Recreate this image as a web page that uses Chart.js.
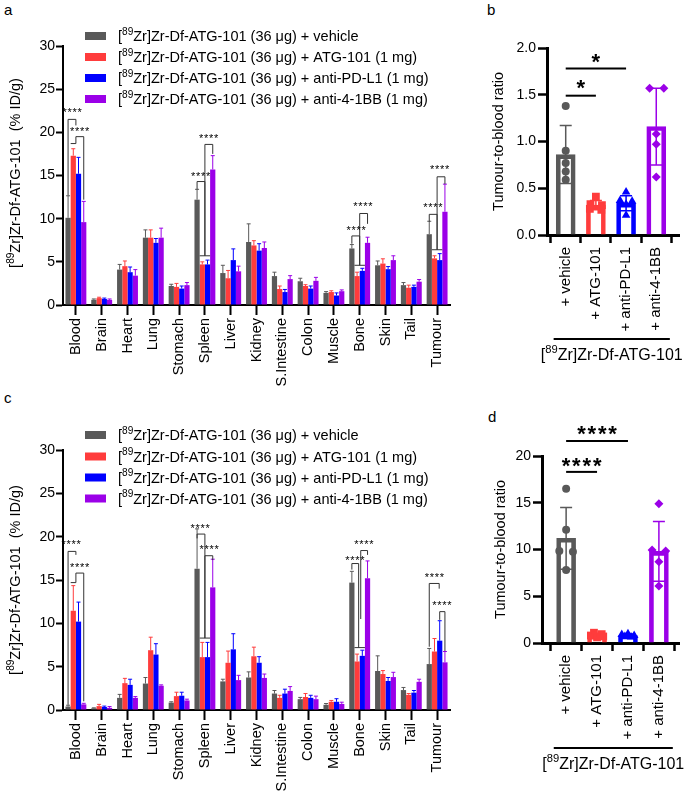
<!DOCTYPE html>
<html>
<head>
<meta charset="utf-8">
<script src="https://cdn.jsdelivr.net/npm/chart.js@4"></script>
<style>
html, body { margin: 0; padding: 0; background: #fff; }
body { width: 685px; height: 797px; position: relative; overflow: hidden; font-family: Arial, "Liberation Sans", sans-serif; }
canvas { position: absolute; }
.tag { position: absolute; font-size: 15px; line-height: 15px; color: #000; }
</style>
</head>
<body>
<div class="tag" style="left:4px;top:2px">a</div>
<div class="tag" style="left:487px;top:2px">b</div>
<div class="tag" style="left:4px;top:390px">c</div>
<div class="tag" style="left:488px;top:409px">d</div>
<canvas id="chartA" width="470" height="400" style="left:0;top:0"></canvas>
<canvas id="chartB" width="205" height="380" style="left:480px;top:0"></canvas>
<canvas id="chartC" width="470" height="397" style="left:0;top:400px"></canvas>
<canvas id="chartD" width="205" height="397" style="left:480px;top:400px"></canvas>
<script>
const FONT = 'Arial, "Liberation Sans", sans-serif'

const organs = ['Blood', 'Brain', 'Heart', 'Lung', 'Stomach', 'Spleen', 'Liver', 'Kidney', 'S.Intestine', 'Colon', 'Muscle', 'Bone', 'Skin', 'Tail', 'Tumour']
const groupSuffix = [' (36 μg) + vehicle', ' (36 μg) + ATG-101 (1 mg)', ' (36 μg) + anti-PD-L1 (1 mg)', ' (36 μg) + anti-4-1BB (1 mg)']
const ratioLabels = ['+ vehicle', '+ ATG-101', '+ anti-PD-L1', '+ anti-4-1BB']
const uptakeTicks = [0, 5, 10, 15, 20, 25, 30]

// panel a: biodistribution, mean and SD (% ID/g)
const aVehicle = [10.1, 0.6, 4.1, 7.8, 2.2, 12.2, 3.7, 7.3, 3.35, 2.75, 1.4, 6.55, 4.6, 2.3, 8.2]
const aVehicleSd = [2.55, 0.1, 0.6, 0.9, 0.2, 1.2, 0.9, 2.1, 0.45, 0.35, 0.15, 0.45, 0.5, 0.3, 1.5]
const aAtg = [17.3, 0.8, 4.5, 7.8, 2.1, 4.7, 3.1, 6.9, 1.85, 2.2, 1.5, 3.35, 4.8, 2.0, 5.4]
const aAtgSd = [0.8, 0.1, 0.6, 0.9, 0.4, 0.3, 0.9, 0.55, 0.35, 0.15, 0.15, 0.45, 0.55, 0.3, 0.3]
const aPdl1 = [15.2, 0.7, 3.8, 7.2, 1.9, 4.7, 5.2, 6.3, 1.5, 1.9, 1.1, 3.95, 4.15, 2.1, 5.2]
const aPdl1Sd = [1.9, 0.1, 0.6, 0.5, 0.3, 0.5, 1.3, 0.8, 0.3, 0.3, 0.3, 0.3, 0.3, 0.2, 0.75]
const a41bb = [9.6, 0.6, 3.4, 7.8, 2.3, 15.7, 3.9, 6.6, 3.0, 2.8, 1.6, 7.2, 5.2, 2.7, 10.8]
const a41bbSd = [2.4, 0.1, 0.7, 1.1, 0.3, 1.6, 0.6, 0.7, 0.4, 0.4, 0.15, 0.65, 0.5, 0.25, 3.2]

// panel c
const cVehicle = [0.4, 0.2, 1.4, 3.05, 0.85, 16.3, 3.3, 3.75, 1.9, 1.25, 0.6, 14.7, 4.5, 2.3, 5.3]
const cVehicleSd = [0.15, 0.05, 0.4, 0.7, 0.1, 4.6, 0.25, 0.65, 0.35, 0.2, 0.15, 1.3, 1.75, 0.3, 1.8]
const cAtg = [11.45, 0.45, 3.1, 6.9, 1.6, 6.1, 5.45, 6.2, 1.4, 1.5, 0.95, 5.6, 4.15, 1.75, 6.75]
const cAtgSd = [2.9, 0.2, 0.55, 1.5, 0.45, 1.7, 1.35, 1.05, 0.3, 0.4, 0.15, 0.85, 0.4, 0.15, 1.5]
const cPdl1 = [10.2, 0.35, 2.9, 6.4, 1.65, 6.1, 7.0, 5.45, 1.9, 1.4, 0.95, 6.25, 3.35, 2.0, 8.0]
const cPdl1Sd = [2.25, 0.1, 0.65, 1.25, 0.4, 1.7, 1.8, 0.7, 0.5, 0.3, 0.35, 0.65, 0.4, 0.25, 2.3]
const c41bb = [0.65, 0.25, 1.4, 2.8, 1.1, 14.15, 3.45, 3.7, 2.2, 1.25, 0.7, 15.2, 3.8, 3.25, 5.5]
const c41bbSd = [0.12, 0.15, 0.15, 0.1, 0.15, 3.25, 0.55, 0.45, 0.5, 0.35, 0.2, 2.0, 0.55, 0.3, 1.25]

// panel b: tumour-to-blood ratio, individual animals, mean, SD
const bVehicle = [1.38, 0.90, 0.77, 0.68, 0.59]
const bAtg = [0.41, 0.33, 0.32, 0.28, 0.27]
const bPdl1 = [0.46, 0.37, 0.36, 0.33, 0.21]
const b41bb = [1.57, 1.57, 1.08, 0.97, 0.62]
const bMean = [0.86, 0.32, 0.34, 1.16]
const bSd = [0.31, 0.05, 0.08, 0.41]
const bJitter = [[0, 0, 0, 0, 0], [0, -0.18, 0.2, -0.2, 0.18], [0, -0.2, 0.2, 0, 0], [-0.22, 0.25, 0, 0, 0]]

// panel d
const dVehicle = [16.5, 12.1, 9.85, 9.75, 7.8]
const dAtg = [1.1, 0.95, 0.8, 0.7, 0.6]
const dPdl1 = [1.0, 0.9, 0.8, 0.7, 0.65]
const d41bb = [14.9, 9.95, 9.85, 8.7, 6.1]
const dMean = [11.2, 0.83, 0.8, 9.8]
const dSd = [3.3, 0.2, 0.15, 3.2]
const dJitter = [[0, 0, -0.22, 0.22, 0], [-0.1, 0.15, -0.2, 0.2, 0], [0, -0.2, 0.2, -0.1, 0.1], [0, -0.22, 0.22, 0, 0]]

const colors = ['#595959', '#ff3c3c', '#0000ff', '#9b00e8']
const pointStyles = ['circle', 'rect', 'triangle', 'rectRot']
const pointRadii = [4, 5.5, 5, 4.5]

Chart.defaults.font.family = FONT
Chart.defaults.color = '#000'

function isoText(ctx, x, y, size, tail, align) {
	const big = size + 'px ' + FONT
	const small = (size * 0.7).toFixed(1) + 'px ' + FONT
	const rest = 'Zr]Zr-Df-ATG-101' + tail
	ctx.font = big
	const w1 = ctx.measureText('[').width
	const w3 = ctx.measureText(rest).width
	ctx.font = small
	const w2 = ctx.measureText('89').width
	const total = w1 + w2 + w3
	let x0 = x
	if (align === 'center') x0 = x - total / 2
	else if (align === 'right') x0 = x - total
	const base = y + size * 0.35
	ctx.textAlign = 'left'
	ctx.textBaseline = 'alphabetic'
	ctx.fillStyle = '#000'
	ctx.font = big
	ctx.fillText('[', x0, base)
	ctx.font = small
	ctx.fillText('89', x0 + w1, base - size * 0.42)
	ctx.font = big
	ctx.fillText(rest, x0 + w1 + w2, base)
}

function stars(ctx, xc, yc, n, size, gap, bold) {
	ctx.font = (bold ? 'bold ' : '') + size + 'px ' + FONT
	ctx.fillStyle = '#000'
	ctx.textAlign = 'center'
	ctx.textBaseline = 'alphabetic'
	for (let i = 0; i < n; i++) {
		ctx.fillText('*', xc + (i - (n - 1) / 2) * gap, yc + size * 0.58)
	}
}

// significance brackets; a/b = position inside the group (0 = vehicle bar ... 3 = anti-4-1BB bar)
const aBrackets = [
	{ c: 0, a: 0, b: 1.5, top: 21.5, la: 12.7, lb: 20.8 },
	{ c: 0, a: 1.5, b: 3, top: 19.5, la: 18.7, lb: 12.2 },
	{ c: 5, a: 0, b: 1.5, top: 14.3, la: 13.4, lb: 5.7 },
	{ c: 5, a: 1.5, b: 3, top: 18.6, la: 5.7, lb: 17.5 },
	{ c: 11, a: 0, b: 1.5, top: 8.0, la: 7.1, lb: 4.6 },
	{ c: 11, a: 1.5, b: 3, top: 10.6, la: 4.6, lb: 9.4 },
	{ c: 14, a: 0, b: 1.5, top: 10.5, la: 9.65, lb: 6.4 },
	{ c: 14, a: 1.5, b: 3, top: 14.85, la: 6.4, lb: 14.0 },
]
const aShelves = [{ c: 0, a: 0.5, b: 1.5, y: 18.7 }, { c: 5, a: 0.5, b: 2.5, y: 5.7 }, { c: 11, a: 0.5, b: 2.5, y: 4.6 }, { c: 14, a: 0.5, b: 2.5, y: 6.4 }]
const aStars = [{ c: 0, p: 0.8, y: 22.6 }, { c: 0, p: 2.2, y: 20.4 }, { c: 5, p: 0.7, y: 15.2 }, { c: 5, p: 2.2, y: 19.6 }, { c: 11, p: 0.8, y: 9.0 }, { c: 11, p: 2.1, y: 11.8 }, { c: 14, p: 0.7, y: 11.6 }, { c: 14, p: 2.0, y: 16.0 }]

const cBrackets = [
	{ c: 0, a: 0, b: 1.5, top: 18.3, la: 0.6, lb: 17.9 },
	{ c: 0, a: 1.5, b: 3, top: 15.8, la: 14.7, lb: 1.0 },
	{ c: 5, a: 0, b: 1.5, top: 20.3, la: 19.8, lb: 8.3 },
	{ c: 5, a: 1.5, b: 3, top: 17.8, la: 8.3, lb: 17.3 },
	{ c: 11, a: 0, b: 1.3, top: 16.9, la: 16.2, lb: 7.2 },
	{ c: 11, a: 1.7, b: 3, top: 18.4, la: 10.5, lb: 17.9 },
	{ c: 14, a: 0, b: 1.9, top: 14.6, la: 7.3, lb: 14.0 },
	{ c: 14, a: 2.0, b: 3, top: 11.35, la: 10.4, lb: 6.8 },
]
const cShelves = [{ c: 0, a: 0.5, b: 1.5, y: 14.7 }, { c: 5, a: 0.5, b: 2.5, y: 8.3 }, { c: 11, a: 0.5, b: 2.5, y: 7.2 }]
const cStars = [{ c: 0, p: 0.6, y: 19.4 }, { c: 0, p: 2.2, y: 16.8 }, { c: 5, p: 0.6, y: 21.3 }, { c: 5, p: 2.3, y: 18.9 }, { c: 11, p: 0.6, y: 17.6 }, { c: 11, p: 2.3, y: 19.4 }, { c: 14, p: 1.0, y: 15.65 }, { c: 14, p: 2.4, y: 12.4 }]

function groupX(chart, c, p) {
	const a = Math.floor(p)
	const b = Math.min(3, Math.ceil(p))
	const xa = chart.getDatasetMeta(a).data[c].x
	const xb = chart.getDatasetMeta(b).data[c].x
	return xa + (xb - xa) * (p - a)
}

function organChart(id, series, sds, brackets, shelves, marks, layout) {
	const datasets = series.map((values, i) => ({
		label: ratioLabels[i],
		data: values,
		sd: sds[i],
		backgroundColor: colors[i],
		borderWidth: 0,
		categoryPercentage: 0.81,
		barPercentage: 1,
	}))

	const extras = {
		id: 'organExtras',
		afterDatasetsDraw(chart) {
			const ctx = chart.ctx
			const y = chart.scales.y
			ctx.save()
			chart.data.datasets.forEach((ds, i) => {
				chart.getDatasetMeta(i).data.forEach((el, j) => {
					const top = y.getPixelForValue(ds.data[j] + ds.sd[j])
					ctx.strokeStyle = ds.backgroundColor
					ctx.lineWidth = 1
					ctx.beginPath()
					ctx.moveTo(el.x, el.y)
					ctx.lineTo(el.x, top)
					ctx.moveTo(el.x - 2, top)
					ctx.lineTo(el.x + 2, top)
					ctx.stroke()
				})
			})
			ctx.restore()
		},
		afterDraw(chart) {
			const ctx = chart.ctx
			const y = chart.scales.y
			ctx.save()
			ctx.strokeStyle = '#333'
			ctx.lineWidth = 1
			brackets.forEach((br) => {
				const xa = groupX(chart, br.c, br.a)
				const xb = groupX(chart, br.c, br.b)
				ctx.beginPath()
				ctx.moveTo(xa, y.getPixelForValue(br.la))
				ctx.lineTo(xa, y.getPixelForValue(br.top))
				ctx.lineTo(xb, y.getPixelForValue(br.top))
				ctx.lineTo(xb, y.getPixelForValue(br.lb))
				ctx.stroke()
			})
			shelves.forEach((sh) => {
				ctx.beginPath()
				ctx.moveTo(groupX(chart, sh.c, sh.a), y.getPixelForValue(sh.y))
				ctx.lineTo(groupX(chart, sh.c, sh.b), y.getPixelForValue(sh.y))
				ctx.stroke()
			})
			marks.forEach((m) => {
				stars(ctx, groupX(chart, m.c, m.p), y.getPixelForValue(m.y), 4, 11, 5, false)
			})

			// legend
			layout.legendRows.forEach((ry, i) => {
				ctx.fillStyle = colors[i]
				ctx.fillRect(85, ry - 4, 21, 8)
				isoText(ctx, 118, ry, 14.5, groupSuffix[i], 'left')
			})

			// y title
			ctx.translate(15, layout.titleY)
			ctx.rotate(-Math.PI / 2)
			isoText(ctx, 0, 0, 14.5, '  (% ID/g)', 'center')
			ctx.restore()
		},
	}

	return new Chart(document.getElementById(id), {
		type: 'bar',
		data: { labels: organs, datasets },
		options: {
			responsive: false,
			animation: false,
			events: [],
			layout: { padding: { top: layout.top, right: 20, left: 0, bottom: 0 } },
			plugins: { legend: { display: false }, tooltip: { enabled: false } },
			scales: {
				x: {
					grid: { offset: false, drawOnChartArea: false, tickLength: 10, tickColor: '#000', tickWidth: 2 },
					border: { color: '#000', width: 2 },
					ticks: { maxRotation: 90, minRotation: 90, autoSkip: false, font: { size: 14.5 }, padding: 3, color: '#000' },
					afterFit: (s) => { s.height = layout.xHeight },
				},
				y: {
					min: 0,
					max: 30,
					afterBuildTicks: (s) => { s.ticks = uptakeTicks.map((v) => ({ value: v })) },
					ticks: { font: { size: 14 }, padding: 1, color: '#000' },
					grid: { drawOnChartArea: false, tickLength: 7, tickColor: '#000', tickWidth: 2 },
					border: { color: '#000', width: 2 },
					afterFit: (s) => { s.width = 63 },
				},
			},
		},
		plugins: [extras],
	})
}

function ratioChart(id, points, jitter, means, sds, layout) {
	const datasets = points.map((pts, i) => ({
		type: 'scatter',
		data: pts.map((v, k) => ({ x: i + jitter[i][k], y: v })),
		pointStyle: pointStyles[i],
		pointRadius: pointRadii[i],
		backgroundColor: colors[i],
		borderWidth: 0,
		order: 1,
	}))
	datasets.push({
		type: 'bar',
		data: means.map((m, i) => ({ x: i, y: m })),
		sd: sds,
		borderColor: colors,
		backgroundColor: 'rgba(255,255,255,0)',
		borderWidth: 4,
		barThickness: 19,
		order: 2,
	})

	const extras = {
		id: 'ratioExtras',
		afterDatasetsDraw(chart) {
			const ctx = chart.ctx
			const y = chart.scales.y
			const barIndex = chart.data.datasets.length - 1
			ctx.save()
			chart.getDatasetMeta(barIndex).data.forEach((el, j) => {
				const lo = y.getPixelForValue(means[j] - sds[j])
				const hi = y.getPixelForValue(means[j] + sds[j])
				ctx.strokeStyle = colors[j]
				ctx.lineWidth = 1.5
				ctx.beginPath()
				ctx.moveTo(el.x, lo)
				ctx.lineTo(el.x, hi)
				ctx.moveTo(el.x - 6, lo)
				ctx.lineTo(el.x + 6, lo)
				ctx.moveTo(el.x - 6, hi)
				ctx.lineTo(el.x + 6, hi)
				ctx.stroke()
			})
			ctx.restore()
		},
		afterDraw(chart) {
			const ctx = chart.ctx
			const x = chart.scales.x
			const y = chart.scales.y
			ctx.save()
			ctx.strokeStyle = '#000'
			ctx.lineWidth = 2
			layout.sig.forEach((s) => {
				const py = y.getPixelForValue(s.y)
				ctx.beginPath()
				ctx.moveTo(x.getPixelForValue(0), py)
				ctx.lineTo(x.getPixelForValue(s.to), py)
				ctx.stroke()
				stars(ctx, (x.getPixelForValue(0) + x.getPixelForValue(s.to)) / 2, y.getPixelForValue(s.starY), layout.starCount, 22, 10.4, true)
			})

			// group bracket under the labels
			const by = chart.chartArea.bottom + layout.bracketGap
			ctx.lineWidth = 2
			ctx.beginPath()
			ctx.moveTo(x.getPixelForValue(-0.4), by)
			ctx.lineTo(x.getPixelForValue(3.45), by)
			ctx.stroke()
			isoText(ctx, (x.getPixelForValue(-0.4) + x.getPixelForValue(3.45)) / 2, by + 15, 16, '', 'center')

			// y title
			ctx.translate(layout.titleX, (chart.chartArea.top + chart.chartArea.bottom) / 2)
			ctx.rotate(-Math.PI / 2)
			ctx.font = '14.5px ' + FONT
			ctx.fillStyle = '#000'
			ctx.textAlign = 'center'
			ctx.textBaseline = 'middle'
			ctx.fillText('Tumour-to-blood ratio', 0, 0)
			ctx.restore()
		},
	}

	return new Chart(document.getElementById(id), {
		type: 'bar',
		data: { datasets },
		options: {
			responsive: false,
			animation: false,
			events: [],
			layout: { padding: { top: layout.top, right: layout.right, left: 0, bottom: 0 } },
			plugins: { legend: { display: false }, tooltip: { enabled: false } },
			scales: {
				x: {
					type: 'linear',
					offset: false,
					min: layout.xMin,
					max: layout.xMax,
					afterBuildTicks: (s) => { s.ticks = [0, 1, 2, 3].map((v) => ({ value: v })) },
					grid: { drawOnChartArea: false, tickLength: 8, tickColor: '#000', tickWidth: 2.5 },
					border: { color: '#000', width: 3 },
					ticks: { callback: (v) => ratioLabels[v], maxRotation: 90, minRotation: 90, autoSkip: false, font: { size: 15 }, padding: 4, color: '#000' },
					afterFit: (s) => { s.height = layout.xHeight },
				},
				y: {
					min: 0,
					max: layout.yMax,
					afterBuildTicks: (s) => { s.ticks = layout.yTicks.map((v) => ({ value: v })) },
					ticks: { callback: layout.fmt, font: { size: 14 }, padding: 2, color: '#000' },
					grid: { drawOnChartArea: false, tickLength: 9, tickColor: '#000', tickWidth: 2.5 },
					border: { color: '#000', width: 3 },
					afterFit: (s) => { s.width = layout.yWidth },
				},
			},
		},
		plugins: [extras],
	})
}

organChart('chartA', [aVehicle, aAtg, aPdl1, a41bb], [aVehicleSd, aAtgSd, aPdl1Sd, a41bbSd], aBrackets, aShelves, aStars,
	{ top: 46, xHeight: 95, legendRows: [36, 57, 78, 99], titleY: 173 })

organChart('chartC', [cVehicle, cAtg, cPdl1, c41bb], [cVehicleSd, cAtgSd, cPdl1Sd, c41bbSd], cBrackets, cShelves, cStars,
	{ top: 50, xHeight: 87, legendRows: [35, 56.5, 77.5, 98.5], titleY: 180 })

ratioChart('chartB', [bVehicle, bAtg, bPdl1, b41bb], bJitter, bMean, bSd, {
	top: 48, right: 1, xHeight: 145, yWidth: 67, xMin: -0.62, xMax: 3.77, yMax: 2,
	yTicks: [0, 0.5, 1, 1.5, 2], fmt: (v) => v.toFixed(1), titleX: 19, bracketGap: 104, starCount: 1,
	sig: [{ to: 1, y: 1.49, starY: 1.63 }, { to: 2, y: 1.78, starY: 1.91 }],
})

ratioChart('chartD', [dVehicle, dAtg, dPdl1, d41bb], dJitter, dMean, dSd, {
	top: 56, right: 6, xHeight: 154, yWidth: 62, xMin: -0.78, xMax: 3.65, yMax: 20,
	yTicks: [0, 5, 10, 15, 20], fmt: (v) => String(v), titleX: 21, bracketGap: 105, starCount: 4,
	sig: [{ to: 1, y: 18.3, starY: 19.6 }, { to: 2, y: 21.6, starY: 23.0 }],
})
</script>
</body>
</html>
